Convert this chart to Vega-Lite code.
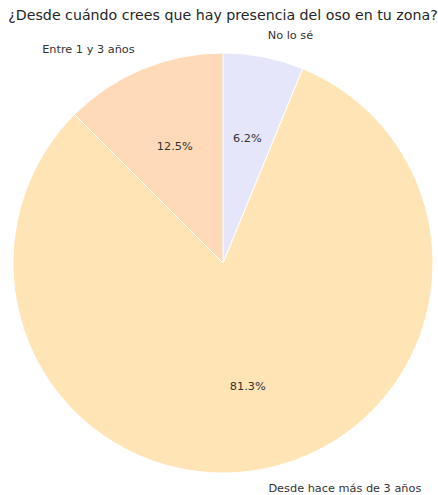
{
  "$schema": "https://vega.github.io/schema/vega-lite/v6.json",
  "width": 430,
  "height": 464,
  "autosize": {"type": "none"},
  "padding": {"left": 8, "top": 31, "right": 0, "bottom": 0},
  "background": "white",
  "title": {
    "text": "¿Desde cuándo crees que hay presencia del oso en tu zona?",
    "font": "DejaVu Sans",
    "fontSize": 14.2,
    "fontWeight": "normal",
    "color": "#262626",
    "anchor": "middle",
    "offset": 7
  },
  "data": {
    "values": [
      {"respuesta": "No lo sé", "pct": 6.2, "label": "6.2%", "ord": 1},
      {"respuesta": "Desde hace más de 3 años", "pct": 81.3, "label": "81.3%", "ord": 2},
      {"respuesta": "Entre 1 y 3 años", "pct": 12.5, "label": "12.5%", "ord": 3}
    ]
  },
  "encoding": {
    "theta": {"field": "pct", "type": "quantitative", "stack": true},
    "order": {"field": "ord", "type": "quantitative"}
  },
  "layer": [
    {
      "mark": {"type": "arc", "outerRadius": 210, "stroke": "white", "strokeWidth": 1},
      "encoding": {
        "color": {
          "field": "respuesta",
          "type": "nominal",
          "scale": {
            "domain": ["No lo sé", "Desde hace más de 3 años", "Entre 1 y 3 años"],
            "range": ["#E6E6FA", "#FFE4B5", "#FFDAB9"]
          },
          "legend": null
        }
      }
    },
    {
      "mark": {"type": "text", "radius": 126, "font": "DejaVu Sans", "fontSize": 11.3, "color": "#333333", "align": "center", "baseline": "middle"},
      "encoding": {"text": {"field": "label"}}
    },
    {
      "mark": {"type": "text", "radius": 231, "font": "DejaVu Sans", "fontSize": 11.3, "color": "#333333", "align": "left", "baseline": "middle"},
      "encoding": {"text": {"condition": {"test": "datum.ord != 3", "field": "respuesta"}, "value": ""}}
    },
    {
      "mark": {"type": "text", "radius": 231, "font": "DejaVu Sans", "fontSize": 11.3, "color": "#333333", "align": "right", "baseline": "middle"},
      "encoding": {"text": {"condition": {"test": "datum.ord == 3", "field": "respuesta"}, "value": ""}}
    }
  ]
}
